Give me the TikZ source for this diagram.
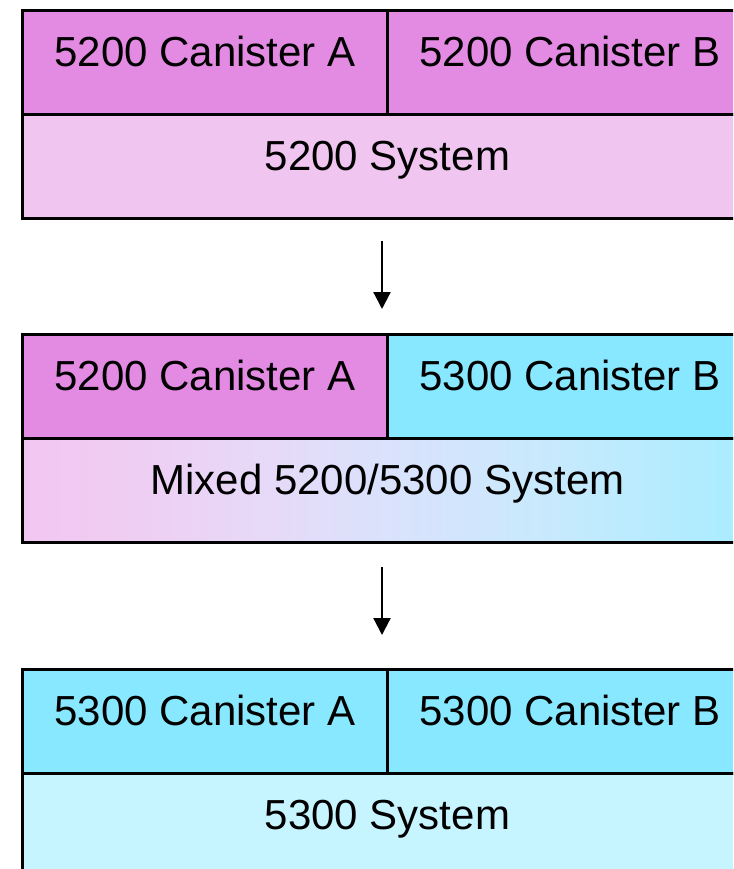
\documentclass[tikz,border=0pt]{standalone}
\usepackage{fontspec}
\setmainfont{Liberation Sans}
\usetikzlibrary{arrows.meta}
\definecolor{pinkA}{HTML}{E38AE3}
\definecolor{pinkS}{HTML}{F0C5F0}
\definecolor{cyanA}{HTML}{88E8FF}
\definecolor{cyanS}{HTML}{C6F4FF}
\definecolor{mx0}{HTML}{F2C6F2}
\definecolor{mx1}{HTML}{F0CCF2}
\definecolor{mx2}{HTML}{E6DAF8}
\definecolor{mx3}{HTML}{DAE2FC}
\definecolor{mx4}{HTML}{C6EAFD}
\definecolor{mx5}{HTML}{A8ECFF}
\pgfdeclarehorizontalshading{mixsh}{100bp}{color(0bp)=(mx0); color(25bp)=(mx0); color(31bp)=(mx1); color(42bp)=(mx2); color(50bp)=(mx3); color(62bp)=(mx4); color(75bp)=(mx5); color(100bp)=(mx5)}
\tikzset{
  cell/.style={draw=black, line width=3pt, rectangle, inner sep=0pt, anchor=north west,
    minimum height=104pt, text height=30pt, text depth=22pt, font=\fontsize{42}{50}\selectfont},
  half/.style={cell, minimum width=365pt},
  full/.style={cell, minimum width=730pt},
  flow/.style={line width=2.2pt, -{Triangle[length=17pt, width=17pt]}}
}
\begin{document}
\begin{tikzpicture}[x=1pt,y=-1pt]
\useasboundingbox (0,0) rectangle (733,869);
\clip (0,0) rectangle (733,869);
% top
\node[half, fill=pinkA] (a1) at (21,9) {5200 Canister A};
\node[half, fill=pinkA] (b1) at (386,9) {5200 Canister B};
\node[full, fill=pinkS] (s1) at (21,113) {5200 System};
% middle
\node[half, fill=pinkA] (a2) at (21,333) {5200 Canister A};
\node[half, fill=cyanA] (b2) at (386,333) {5300 Canister B};
\node[full, shading=mixsh] (s2) at (21,437) {Mixed 5200/5300 System};
% bottom
\node[half, fill=cyanA] (a3) at (21,668) {5300 Canister A};
\node[half, fill=cyanA] (b3) at (386,668) {5300 Canister B};
\node[full, fill=cyanS] (s3) at (21,772) {5300 System};
% arrows
\coordinate (p1) at (382,241);
\coordinate (q1) at (382,309);
\coordinate (p2) at (382,567);
\coordinate (q2) at (382,635);
\draw[flow] (p1) -- (q1);
\draw[flow] (p2) -- (q2);
\end{tikzpicture}
\end{document}
